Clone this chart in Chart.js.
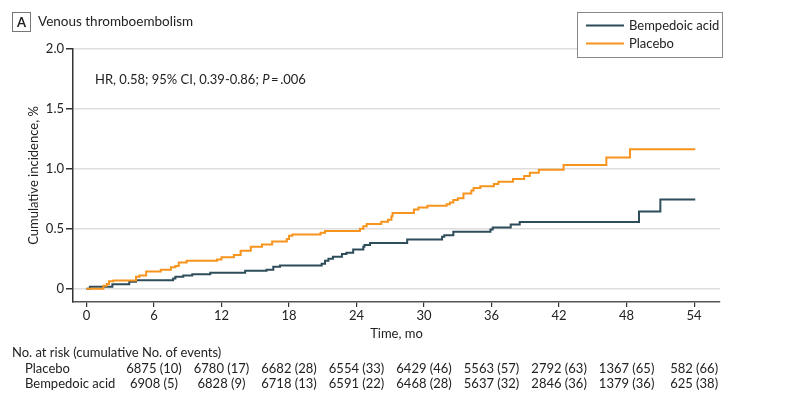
<!DOCTYPE html>
<html>
<head>
<meta charset="utf-8">
<script src="https://cdn.jsdelivr.net/npm/chart.js@4.4.1/dist/chart.umd.min.js"></script>
<style>
  html, body { margin: 0; padding: 0; background: #fff; }
</style>
</head>
<body>
<canvas id="grafico" width="807" height="414"></canvas>
<script>
// curvas de incidencia cumulativa (%)
const placeboTempo = [0, 1.5, 1.8, 2.0, 2.4, 4.4, 4.7, 5.3, 6.6, 7.5, 7.9, 8.2, 8.9, 11.6, 12.0, 13.1, 13.7, 14.6, 15.6, 16.5, 17.8, 18.0, 18.3, 20.8, 21.2, 24.3, 24.6, 24.9, 26.2, 26.8, 27.1, 27.2, 29.1, 29.5, 30.3, 32.0, 32.3, 32.6, 33.0, 33.5, 34.2, 34.4, 35.0, 36.2, 36.6, 37.9, 38.9, 39.4, 40.2, 42.4, 46.2, 48.3, 54.1];
const placeboInc = [0, 0.025, 0.04, 0.064, 0.07, 0.1, 0.11, 0.145, 0.16, 0.18, 0.19, 0.22, 0.235, 0.245, 0.264, 0.283, 0.317, 0.35, 0.37, 0.395, 0.415, 0.442, 0.453, 0.467, 0.483, 0.5, 0.522, 0.54, 0.56, 0.575, 0.605, 0.633, 0.662, 0.678, 0.692, 0.705, 0.72, 0.74, 0.755, 0.795, 0.82, 0.84, 0.855, 0.875, 0.892, 0.915, 0.94, 0.967, 0.992, 1.033, 1.095, 1.164, 1.164];

const bempTempo = [0, 0.3, 2.3, 3.8, 4.4, 7.7, 7.9, 8.6, 9.4, 11.0, 14.1, 16.0, 16.6, 17.2, 20.9, 21.2, 21.5, 21.9, 22.7, 23.1, 23.7, 24.6, 24.7, 25.2, 28.5, 31.6, 31.8, 32.6, 35.9, 36.1, 37.7, 38.5, 49.1, 51.0, 54.1];
const bempInc = [0, 0.017, 0.039, 0.058, 0.072, 0.085, 0.1, 0.11, 0.122, 0.133, 0.15, 0.16, 0.183, 0.195, 0.21, 0.233, 0.25, 0.267, 0.29, 0.3, 0.328, 0.35, 0.365, 0.383, 0.412, 0.435, 0.447, 0.475, 0.495, 0.512, 0.537, 0.558, 0.645, 0.745, 0.745];

const xTicks = [0, 6, 12, 18, 24, 30, 36, 42, 48, 54];
const yTicks = [0, 0.5, 1.0, 1.5, 2.0];

// tabela de numero em risco
const riscoTempo = [6, 12, 18, 24, 30, 36, 42, 48, 54];
const riscoPlacebo = ["6875 (10)", "6780 (17)", "6682 (28)", "6554 (33)", "6429 (46)", "5563 (57)", "2792 (63)", "1367 (65)", "582 (66)"];
const riscoBemp = ["6908 (5)", "6828 (9)", "6718 (13)", "6591 (22)", "6468 (28)", "5637 (32)", "2846 (36)", "1379 (36)", "625 (38)"];

const corBemp = "#2e4d5a";
const corPlacebo = "#f7941d";
const fonte = "Lato, 'Open Sans', sans-serif";
const corTexto = "#222";

function pontos(tempo, inc) {
  return tempo.map((t, i) => ({ x: t, y: inc[i] }));
}

const extras = {
  id: "extras",
  afterDraw(chart) {
    const ctx = chart.ctx;
    const xs = chart.scales.x;
    ctx.save();
    ctx.fillStyle = corTexto;
    ctx.textBaseline = "middle";

    // painel A
    ctx.strokeStyle = "#777";
    ctx.lineWidth = 1;
    ctx.strokeRect(12.5, 12.5, 18, 19);
    ctx.font = "bold 13px " + fonte;
    ctx.textAlign = "center";
    ctx.fillText("A", 21.5, 22.5);
    ctx.font = "13.5px " + fonte;
    ctx.textAlign = "left";
    ctx.fillText("Venous thromboembolism", 38, 22);

    // HR
    ctx.font = "13px " + fonte;
    let x = 95;
    const parte1 = "HR, 0.58; 95% CI, 0.39-0.86; ";
    ctx.fillText(parte1, x, 80);
    x += ctx.measureText(parte1).width;
    ctx.font = "italic 13px " + fonte;
    ctx.fillText("P", x, 80);
    x += ctx.measureText("P").width;
    ctx.font = "13px " + fonte;
    ctx.fillText("\u2009=\u2009.006", x, 80);

    // legenda
    ctx.fillStyle = "#fff";
    ctx.fillRect(577, 12, 145, 45);
    ctx.strokeStyle = "#888";
    ctx.strokeRect(577.5, 12.5, 145, 45);
    ctx.lineWidth = 2;
    ctx.strokeStyle = corBemp;
    ctx.beginPath(); ctx.moveTo(586, 25.5); ctx.lineTo(624, 25.5); ctx.stroke();
    ctx.strokeStyle = corPlacebo;
    ctx.beginPath(); ctx.moveTo(586, 43.5); ctx.lineTo(624, 43.5); ctx.stroke();
    ctx.fillStyle = corTexto;
    ctx.font = "13px " + fonte;
    ctx.fillText("Bempedoic acid", 629, 26);
    ctx.fillText("Placebo", 629, 44);

    // tabela em risco
    ctx.fillText("No. at risk (cumulative No. of events)", 12, 353);
    ctx.fillText("Placebo", 25, 369);
    ctx.fillText("Bempedoic acid", 25, 384);
    ctx.textAlign = "center";
    riscoTempo.forEach((t, i) => {
      const px = xs.getPixelForValue(t);
      ctx.fillText(riscoPlacebo[i], px, 369);
      ctx.fillText(riscoBemp[i], px, 384);
    });
    ctx.restore();
  }
};

new Chart(document.getElementById("grafico"), {
  type: "line",
  data: {
    datasets: [
      {
        label: "Placebo",
        data: pontos(placeboTempo, placeboInc),
        borderColor: corPlacebo,
        borderWidth: 2,
        stepped: true,
        pointRadius: 0,
        fill: false
      },
      {
        label: "Bempedoic acid",
        data: pontos(bempTempo, bempInc),
        borderColor: corBemp,
        borderWidth: 2,
        stepped: true,
        pointRadius: 0,
        fill: false
      }
    ]
  },
  options: {
    responsive: false,
    animation: false,
    layout: { padding: { left: 0, right: 87, top: 49, bottom: 72 } },
    plugins: {
      legend: { display: false },
      tooltip: { enabled: false }
    },
    scales: {
      x: {
        type: "linear",
        min: -1.2,
        max: 56.3,
        afterBuildTicks: s => { s.ticks = xTicks.map(v => ({ value: v })); },
        afterFit: s => { s.height = 40; },
        ticks: { color: corTexto, padding: 1, font: { family: fonte, size: 13 } },
        grid: { drawOnChartArea: false, tickColor: "#333", tickLength: 5, lineWidth: 1.2 },
        border: { color: "#555", width: 1.5 },
        title: { display: true, text: "Time, mo", color: corTexto, padding: { top: 0, bottom: 0 }, font: { family: fonte, size: 13 } }
      },
      y: {
        min: -0.11,
        max: 2.0,
        afterBuildTicks: s => { s.ticks = yTicks.map(v => ({ value: v })); },
        afterFit: s => { s.width = 73; },
        ticks: {
          color: corTexto,
          padding: 2,
          font: { family: fonte, size: 13 },
          callback: v => v === 0 ? "0" : v.toFixed(1)
        },
        grid: { color: "#dedede", lineWidth: 1.5, tickColor: "#333", tickLength: 7 },
        border: { color: "#333", width: 1.5 },
        title: { display: true, text: "Cumulative incidence, %", color: corTexto, padding: { top: 26, bottom: 0 }, font: { family: fonte, size: 13 } }
      }
    }
  },
  plugins: [extras]
});
</script>
</body>
</html>
